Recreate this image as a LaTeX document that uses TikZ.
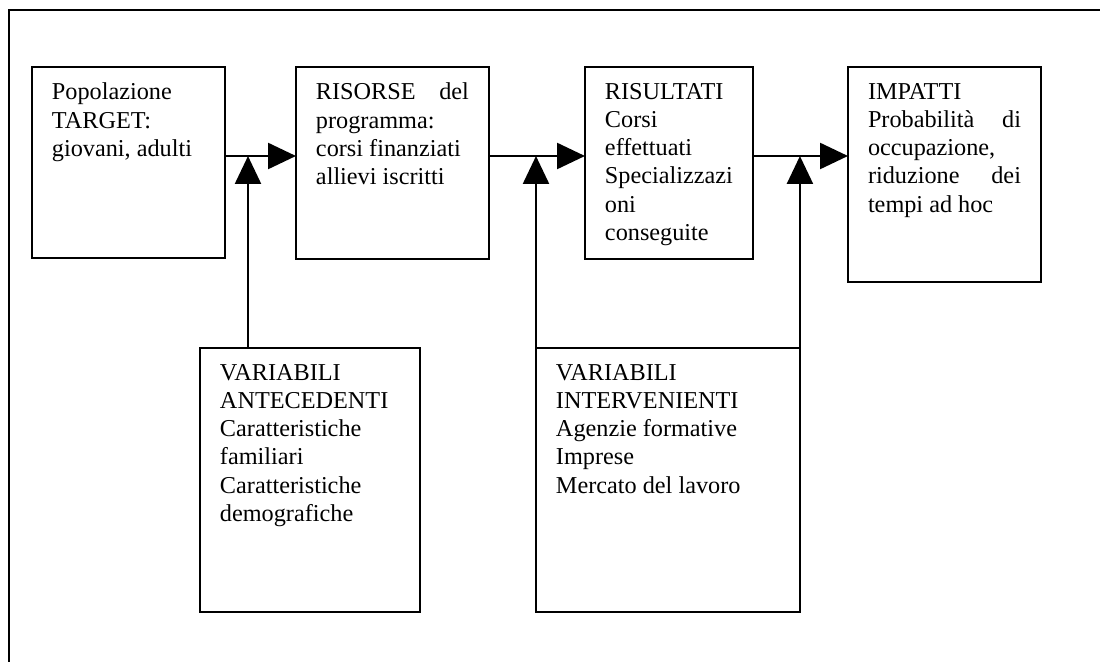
\documentclass[tikz,border=0pt]{standalone}
\usepackage{fontspec}
\setmainfont{Liberation Serif}
\usetikzlibrary{arrows.meta}
\tikzset{
  blk/.style={draw, line width=1.1pt, anchor=north west, inner xsep=0.4cm, inner ysep=0.32cm, outer sep=0pt,
    font=\fontsize{13.8}{16.1}\selectfont},
  flow/.style={line width=1.6pt, -{Triangle[length=15.9pt,width=14.7pt]}}
}
\begin{document}
\begin{tikzpicture}[x=0.02cm,y=-0.02cm]
\clip (0,0) rectangle (1100,662);
% cornice esterna
\draw[line width=1.1pt] (9,670)--(9,10)--(1110,10);
% catena principale
\node[blk] (pop) at (32,67) {\parbox[t][3.18cm][t]{3.06cm}{Popolazione\\TARGET:\\giovani, adulti}};
\node[blk] (ris) at (296,67) {\parbox[t][3.20cm][t]{3.06cm}{RISORSE\hfill del\\programma:\\corsi finanziati\\allievi iscritti}};
\node[blk] (out) at (585,67) {\parbox[t][3.20cm][t]{2.56cm}{RISULTATI\\Corsi\\effettuati\\Specializzazi\\oni\\conseguite}};
\node[blk] (imp) at (848,67) {\parbox[t][3.66cm][t]{3.06cm}{IMPATTI\\Probabilità\hfill di\\occupazione,\\riduzione\hfill dei\\tempi ad hoc}};
% variabili
\node[blk] (ant) at (200,348) {\parbox[t][4.64cm][t]{3.60cm}{VARIABILI\\ANTECEDENTI\\Caratteristiche\\familiari\\Caratteristiche\\demografiche}};
\node[blk] (itv) at (536,348) {\parbox[t][4.64cm][t]{4.48cm}{VARIABILI\\INTERVENIENTI\\Agenzie formative\\Imprese\\Mercato del lavoro}};
\coordinate (lvl) at (0,156);
\coordinate (j1) at (248,156);
\draw[flow] (pop.east |- lvl)--(ris.west |- lvl);
\draw[flow] (ris.east |- lvl)--(out.west |- lvl);
\draw[flow] (out.east |- lvl)--(imp.west |- lvl);
\draw[flow] (ant.north -| j1)--(j1);
\draw[flow] (itv.north west)--(itv.north west |- lvl);
\draw[flow] (itv.north east)--(itv.north east |- lvl);
\end{tikzpicture}
\end{document}
